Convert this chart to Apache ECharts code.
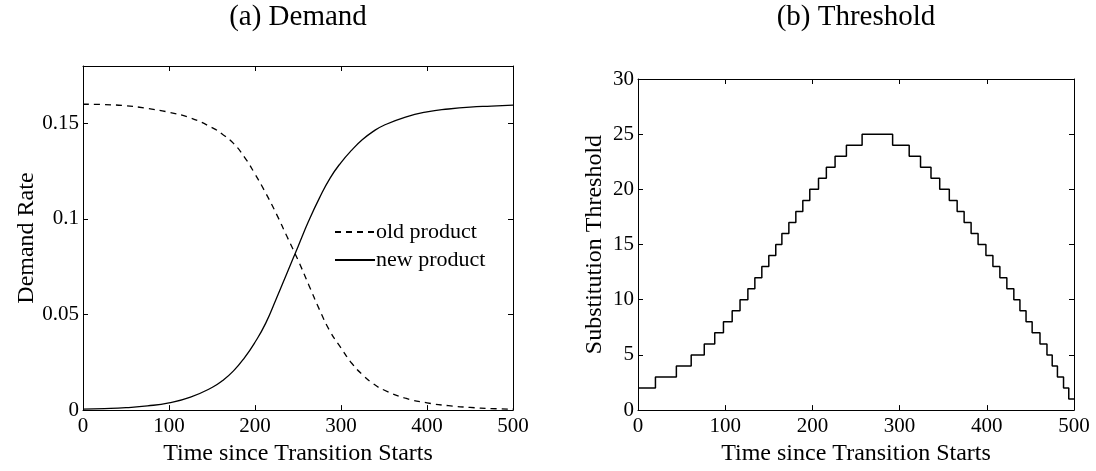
<!DOCTYPE html>
<html>
<head>
<meta charset="utf-8">
<script src="https://cdn.jsdelivr.net/npm/echarts@6/dist/echarts.min.js"></script>
<style>
  html, body { margin: 0; padding: 0; background: #fff; }
  #main { width: 1096px; height: 471px; }
</style>
</head>
<body>
<div id="main"></div>
<script>
// (a) demand curves (denser where the curves bend)
var demandTime = [0, 25, 50, 75, 100, 125, 150, 162.5, 175, 187.5, 200, 212.5, 225, 237.5, 250, 262.5, 275,
  287.5, 300, 312.5, 325, 337.5, 350, 375, 400, 425, 450, 475, 500];
var oldDemand = [0.160, 0.1598, 0.1592, 0.1578, 0.1558, 0.1528, 0.1478, 0.1442, 0.1395, 0.1325, 0.1235, 0.1135, 0.1025,
  0.0905, 0.0785, 0.0655, 0.0525, 0.041, 0.0325, 0.0245, 0.0185, 0.0138, 0.0105, 0.0062, 0.0038, 0.0023, 0.0014, 0.0008, 0.0005];
var newDemand = [0.0005, 0.0008, 0.0013, 0.0022, 0.0038, 0.0068, 0.0118, 0.0155, 0.0205, 0.0272, 0.0355, 0.0455, 0.0585,
  0.072, 0.0855, 0.099, 0.111, 0.1215, 0.1295, 0.136, 0.1415, 0.1458, 0.149, 0.1533, 0.156, 0.1575, 0.1585, 0.159, 0.1595];

// (b) threshold: time where each level starts, and the level
var thresholdTime = [0, 20, 44, 61, 76, 88, 98, 108, 117, 126, 134, 142, 150, 158, 165, 173, 181, 189, 197, 207, 216, 226, 239, 257,
  292, 311, 324, 336, 346, 357, 366, 374, 382, 390, 399, 407, 415, 423, 431, 438, 445, 452, 461, 469, 475, 481, 488, 494, 500];
var thresholdLevel = [2, 3, 4, 5, 6, 7, 8, 9, 10, 11, 12, 13, 14, 15, 16, 17, 18, 19, 20, 21, 22, 23, 24, 25,
  24, 23, 22, 21, 20, 19, 18, 17, 16, 15, 14, 13, 12, 11, 10, 9, 8, 7, 6, 5, 4, 3, 2, 1, 1];

var seriesNames = ['old product', 'new product'];
var titles = ['(a) Demand', '(b) Threshold'];

var FONT = 'Liberation Serif';
var black = '#000';

function zip(xs, ys) {
  return xs.map(function (x, i) { return [x, ys[i]]; });
}

// frame axes: labelled bottom/left, bare top/right, ticks inside
function xAxes(grid, name) {
  return [{
    gridIndex: grid, type: 'value', min: 0, max: 500, interval: 100,
    name: name, nameLocation: 'middle', nameGap: 26,
    nameTextStyle: { fontFamily: FONT, fontSize: 24, color: black },
    axisLine: { onZero: false, lineStyle: { color: black, width: 1 } },
    axisTick: { inside: true, length: 5, lineStyle: { color: black } },
    axisLabel: { fontFamily: FONT, fontSize: 21, color: black, margin: 6 },
    splitLine: { show: false }
  }, {
    gridIndex: grid, type: 'value', min: 0, max: 500, interval: 100, position: 'top',
    axisLine: { onZero: false, lineStyle: { color: black, width: 1 } },
    axisTick: { inside: true, length: 5, lineStyle: { color: black } },
    axisLabel: { show: false },
    splitLine: { show: false }
  }];
}

function yAxes(grid, name, max, interval, gap) {
  return [{
    gridIndex: grid, type: 'value', min: 0, max: max, interval: interval,
    name: name, nameLocation: 'middle', nameGap: gap, nameRotate: 90,
    nameTextStyle: { fontFamily: FONT, fontSize: 24, color: black },
    axisLine: { show: true, onZero: false, lineStyle: { color: black, width: 1 } },
    axisTick: { show: true, inside: true, length: 5, lineStyle: { color: black } },
    axisLabel: { fontFamily: FONT, fontSize: 21, color: black, margin: 4, showMaxLabel: max % interval === 0 },
    splitLine: { show: false }
  }, {
    gridIndex: grid, type: 'value', min: 0, max: max, interval: interval, position: 'right',
    axisLine: { show: true, onZero: false, lineStyle: { color: black, width: 1 } },
    axisTick: { show: true, inside: true, length: 5, lineStyle: { color: black } },
    axisLabel: { show: false },
    splitLine: { show: false }
  }];
}

var chart = echarts.init(document.getElementById('main'));
chart.setOption({
  animation: false,
  backgroundColor: '#fff',
  title: [
    { text: titles[0], left: 298, top: 3, textAlign: 'center', padding: 0,
      textStyle: { fontFamily: FONT, fontSize: 29, fontWeight: 'normal', color: black } },
    { text: titles[1], left: 856, top: 3, textAlign: 'center', padding: 0,
      textStyle: { fontFamily: FONT, fontSize: 29, fontWeight: 'normal', color: black } }
  ],
  legend: {
    data: seriesNames,
    orient: 'vertical',
    left: 334, top: 221,
    itemWidth: 40, itemHeight: 12, itemGap: 6,
    padding: 0,
    itemStyle: { opacity: 0 },
    textStyle: { fontFamily: FONT, fontSize: 22, color: black, padding: [0, 0, 0, -4] }
  },
  grid: [
    { left: 83, top: 66, width: 430, height: 344.5 },
    { left: 638, top: 79, width: 436, height: 333 }
  ],
  xAxis: xAxes(0, 'Time since Transition Starts').concat(xAxes(1, 'Time since Transition Starts')),
  yAxis: yAxes(0, 'Demand Rate', 0.18, 0.05, 44).concat(yAxes(1, 'Substitution Threshold', 30, 5, 31)),
  series: [
    {
      name: seriesNames[0], type: 'line', xAxisIndex: 0, yAxisIndex: 0,
      data: zip(demandTime, oldDemand), smooth: 0.5, symbol: 'none',
      itemStyle: { color: black },
      lineStyle: { color: black, width: 1.3, type: [6, 5] }
    },
    {
      name: seriesNames[1], type: 'line', xAxisIndex: 0, yAxisIndex: 0,
      data: zip(demandTime, newDemand), smooth: 0.5, symbol: 'none',
      itemStyle: { color: black },
      lineStyle: { color: black, width: 1.3 }
    },
    {
      name: 'threshold', type: 'line', xAxisIndex: 2, yAxisIndex: 2,
      data: zip(thresholdTime, thresholdLevel), step: 'end', symbol: 'none',
      itemStyle: { color: black },
      lineStyle: { color: black, width: 1.5 }
    }
  ]
});
</script>
</body>
</html>
